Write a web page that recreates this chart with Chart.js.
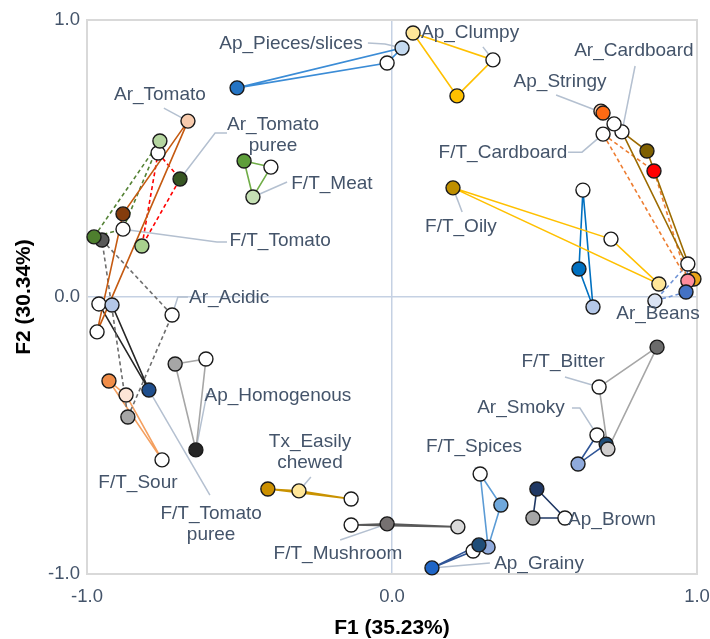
<!DOCTYPE html>
<html>
<head>
<meta charset="utf-8">
<script src="https://cdn.jsdelivr.net/npm/chart.js@4.4.1/dist/chart.umd.min.js"></script>
<style>
  html, body { margin: 0; padding: 0; background: #ffffff; }
  #wrap { width: 710px; height: 639px; }
</style>
</head>
<body>
<div id="wrap"><canvas id="c" width="710" height="639"></canvas></div>
<script>
// ---- data ----
const attributes = ["Ap_Pieces/slices", "Ap_Clumpy", "Ar_Cardboard", "Ap_Stringy", "F/T_Cardboard", "Ar_Beans",
  "F/T_Oily", "", "Ar_Tomato", "Ar_Acidic", "Ar_Tomato puree", "F/T_Tomato", "F/T_Meat", "F/T_Tomato puree",
  "Ap_Homogenous", "F/T_Sour", "Tx_Easily chewed", "F/T_Mushroom", "F/T_Spices", "Ap_Grainy", "Ap_Brown",
  "Ar_Smoky", "F/T_Bitter"];

const f1Values = [
  [-0.508, -0.016, 0.033],
  [0.069, 0.331, 0.213],
  [0.754, 0.836, 0.990],
  [0.685, 0.692, 0.728],
  [0.692, 0.859, 0.970],
  [0.970, 0.964, 0.862],
  [0.200, 0.718, 0.875],
  [0.626, 0.613, 0.659],
  [-0.669, -0.882, -0.967],
  [-0.951, -0.721, -0.866],
  [-0.767, -0.695, -0.820],
  [-0.761, -0.977, -0.882],
  [-0.485, -0.397, -0.456],
  [-0.961, -0.918, -0.797],
  [-0.711, -0.610, -0.643],
  [-0.928, -0.872, -0.754],
  [-0.407, -0.305, -0.134],
  [-0.134, -0.016, 0.216],
  [0.289, 0.357, 0.315],
  [0.131, 0.266, 0.285],
  [0.475, 0.462, 0.567],
  [0.672, 0.702, 0.610],
  [0.869, 0.679, 0.708]
];

const f2Values = [
  [0.755, 0.845, 0.899],
  [0.953, 0.856, 0.726],
  [0.596, 0.527, 0.065],
  [0.671, 0.664, 0.625],
  [0.588, 0.455, 0.058],
  [0.119, 0.018, -0.014],
  [0.394, 0.209, 0.047],
  [0.386, 0.101, -0.036],
  [0.635, 0.300, -0.126],
  [0.206, -0.065, -0.433],
  [0.520, 0.426, 0.184],
  [0.563, 0.217, 0.245],
  [0.491, 0.469, 0.361],
  [-0.025, -0.029, -0.336],
  [-0.242, -0.224, -0.552],
  [-0.303, -0.354, -0.588],
  [-0.693, -0.700, -0.729],
  [-0.823, -0.819, -0.830],
  [-0.639, -0.751, -0.903],
  [-0.978, -0.917, -0.895],
  [-0.693, -0.798, -0.798],
  [-0.498, -0.531, -0.603],
  [-0.181, -0.325, -0.549]
];

const xTickValues = [-1, 0, 1];
const yTickValues = [-1, 0, 1];
const xTitle = "F1 (35.23%)";
const yTitle = "F2 (30.34%)";

// ---- styles ----
const pointColors = [
  ["#2474C4", "#FFFFFF", "#C5DAF0"],
  ["#FFE699", "#FFFFFF", "#FFC000"],
  ["#FFFFFF", "#7F6000", "#E8A317"],
  ["#F8CBAD", "#FF6A13", "#FFFFFF"],
  ["#FFFFFF", "#FF0000", "#FF8C9C"],
  ["#FFFFFF", "#4472C4", "#DAE3F3"],
  ["#BF8F00", "#FFFFFF", "#FFE699"],
  ["#FFFFFF", "#0070C0", "#B4C7E7"],
  ["#F8CBAD", "#843C0C", "#FFFFFF"],
  ["#595959", "#FFFFFF", "#A6A6A6"],
  ["#FFFFFF", "#375623", "#A9D18E"],
  ["#B5D6A0", "#4E7F2E", "#FFFFFF"],
  ["#5E9E3A", "#FFFFFF", "#C5E0B4"],
  ["#FFFFFF", "#B4C7E7", "#1F4E8C"],
  ["#A6A6A6", "#FFFFFF", "#262626"],
  ["#F08D49", "#FCE4D6", "#FFFFFF"],
  ["#CC9000", "#FFE699", "#FFFFFF"],
  ["#FFFFFF", "#767171", "#D9D9D9"],
  ["#FFFFFF", "#6FA8DC", "#8FAADC"],
  ["#1F65C6", "#FFFFFF", "#1F4E79"],
  ["#203864", "#A6A6A6", "#FFFFFF"],
  ["#FFFFFF", "#1F4E79", "#8FAADC"],
  ["#6B6B6B", "#FFFFFF", "#D0CECE"]
];
const lineColors = ["#3B8CD6", "#FFC000", "#9C6B00", "#ED7D31", "#ED7D31", "#6F93D6", "#FFC000", "#0070C0",
  "#C55A11", "#6E6E6E", "#FF0000", "#548235", "#70AD47", "#262626", "#A6A6A6", "#F4A060", "#C99200",
  "#595959", "#5B9BD5", "#2F5597", "#203864", "#2F5597", "#A6A6A6"];
const lineDashed = [false, false, false, false, true, true, false, false, false, true, true, true, false,
  false, false, false, false, false, false, false, false, false, false];

// label anchors (data coordinates of text centre) and leader bends
const labelX = [-0.331, 0.256, 0.793, 0.551, 0.364, 0.872, 0.226, null, -0.761, -0.534, -0.390, -0.367, -0.197,
  -0.593, -0.374, -0.833, -0.269, -0.177, 0.269, 0.482, 0.721, 0.423, 0.561];
const labelY = [0.913, 0.953, 0.888, 0.776, 0.520, -0.062, 0.253, null, 0.729, -0.004, 0.583, 0.202, 0.408,
  -0.819, -0.357, -0.670, -0.561, -0.928, -0.542, -0.964, -0.805, -0.401, -0.235];
const leaderBends = [
  [[-0.079, 0.917], [-0.023, 0.913]],
  [[0.298, 0.903]],
  [[0.797, 0.834]],
  [[0.538, 0.729]],
  [[0.577, 0.523], [0.623, 0.523]],
  null,
  [[0.230, 0.307]],
  null,
  [[-0.748, 0.682]],
  [[-0.669, 0.0], [-0.702, 0.0]],
  [[-0.541, 0.592], [-0.580, 0.592]],
  [[-0.541, 0.199], [-0.574, 0.199]],
  [[-0.344, 0.415]],
  [[-0.597, -0.715]],
  [[-0.587, -0.350], [-0.607, -0.350]],
  null,
  [[-0.266, -0.650]],
  [[-0.170, -0.877]],
  [[0.272, -0.614]],
  [[0.321, -0.960]],
  null,
  [[0.590, -0.401], [0.616, -0.401]],
  [[0.567, -0.289]]
];
const leaderTarget = [2, 1, 0, 1, 0, -1, 0, -1, 0, 1, 1, 2, 2, 2, 2, -1, 1, 1, 0, 0, -1, 0, 1];

// ---- build datasets ----
const datasets = [];
const n = attributes.length;
for (let i = n - 1; i >= 0; i--) {
  const pts = f1Values[i].map((x, k) => ({ x: x, y: f2Values[i][k] }));
  datasets.push({
    label: attributes[i] || "group",
    data: pts,
    showLine: false,
    clip: false,
    pointRadius: 7,
    pointHoverRadius: 7,
    pointBackgroundColor: pointColors[i],
    pointBorderColor: "#1a1a1a",
    pointBorderWidth: 1.4,
    order: 1
  });
}
for (let i = 0; i < n; i++) {
  const pts = f1Values[i].map((x, k) => ({ x: x, y: f2Values[i][k] }));
  pts.push({ x: f1Values[i][0], y: f2Values[i][0] });
  datasets.push({
    label: (attributes[i] || "group") + " links",
    data: pts,
    showLine: true,
    clip: false,
    fill: false,
    pointRadius: 0,
    borderColor: lineColors[i],
    borderWidth: 1.6,
    borderDash: lineDashed[i] ? [4, 3] : [],
    tension: 0,
    order: 2
  });
}

const LABEL_FONT = '19px "Liberation Sans", Arial, sans-serif';
const TEXT_COLOR = "#44546A";

const overlay = {
  id: "overlay",
  beforeDatasetsDraw(chart) {
    const { ctx, chartArea: a, scales } = chart;
    const sx = scales.x, sy = scales.y;
    ctx.save();
    ctx.strokeStyle = "#D9D9D9";
    ctx.lineWidth = 2;
    ctx.strokeRect(a.left, a.top, a.right - a.left, a.bottom - a.top);
    ctx.strokeStyle = "#B4C0D0";
    ctx.lineWidth = 1.5;
    for (let i = 0; i < n; i++) {
      if (!leaderBends[i] || leaderTarget[i] < 0) continue;
      ctx.beginPath();
      leaderBends[i].forEach((p, k) => {
        const px = sx.getPixelForValue(p[0]), py = sy.getPixelForValue(p[1]);
        if (k === 0) ctx.moveTo(px, py); else ctx.lineTo(px, py);
      });
      const t = leaderTarget[i];
      ctx.lineTo(sx.getPixelForValue(f1Values[i][t]), sy.getPixelForValue(f2Values[i][t]));
      ctx.stroke();
    }
    ctx.restore();
  },
  afterDatasetsDraw(chart) {
    const { ctx, scales } = chart;
    const sx = scales.x, sy = scales.y;
    ctx.save();
    ctx.font = LABEL_FONT;
    ctx.fillStyle = TEXT_COLOR;
    ctx.textAlign = "center";
    ctx.textBaseline = "middle";
    for (let i = 0; i < n; i++) {
      if (labelX[i] === null || !attributes[i]) continue;
      const lines = attributes[i].split(" ");
      const cx = sx.getPixelForValue(labelX[i]);
      const cy = sy.getPixelForValue(labelY[i]);
      const lh = 21;
      const y0 = cy - (lines.length - 1) * lh / 2;
      lines.forEach((s, k) => ctx.fillText(s, cx, y0 + k * lh));
    }
    ctx.restore();
  }
};

const tickFont = { family: '"Liberation Sans", Arial, sans-serif', size: 18.5 };
const titleFont = { family: '"Liberation Sans", Arial, sans-serif', size: 21, weight: "bold", lineHeight: 1 };

new Chart(document.getElementById("c"), {
  type: "scatter",
  data: { datasets: datasets },
  options: {
    responsive: false,
    devicePixelRatio: 1,
    animation: false,
    events: [],
    layout: { padding: { top: 20, right: 13, left: 0, bottom: 0 } },
    plugins: { legend: { display: false }, tooltip: { enabled: false } },
    scales: {
      x: {
        type: "linear", min: -1, max: 1,
        afterBuildTicks: s => { s.ticks = xTickValues.map(v => ({ value: v })); },
        afterFit: s => { s.height = 65; s.paddingLeft = 0; s.paddingRight = 0; },
        ticks: { callback: v => v.toFixed(1), color: TEXT_COLOR, font: tickFont, padding: 12, maxRotation: 0 },
        grid: { drawTicks: false, lineWidth: 1.5,
          color: c => (c.tick && c.tick.value === 0) ? "#C5D1E3" : "rgba(0,0,0,0)" },
        border: { display: false },
        title: { display: true, text: xTitle, color: "#000000", font: titleFont, padding: { top: 0, bottom: 0 } }
      },
      y: {
        type: "linear", min: -1, max: 1,
        afterBuildTicks: s => { s.ticks = yTickValues.map(v => ({ value: v })); },
        afterFit: s => { s.width = 87; s.paddingTop = 0; s.paddingBottom = 0; },
        ticks: { callback: v => v.toFixed(1), color: TEXT_COLOR, font: tickFont, padding: 7 },
        grid: { drawTicks: false, lineWidth: 1.5,
          color: c => (c.tick && c.tick.value === 0) ? "#C5D1E3" : "rgba(0,0,0,0)" },
        border: { display: false },
        title: { display: true, text: yTitle, color: "#000000", font: titleFont, padding: { top: 14, bottom: 0 } }
      }
    }
  },
  plugins: [overlay]
});
</script>
</body>
</html>
